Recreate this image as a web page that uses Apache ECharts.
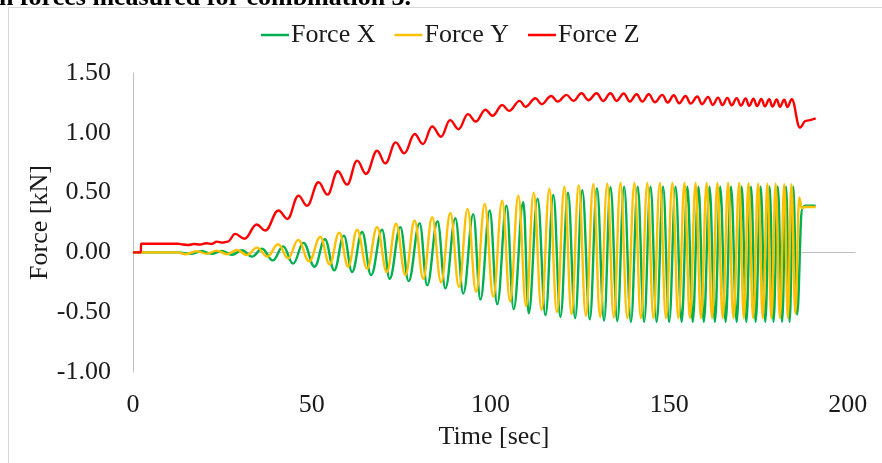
<!DOCTYPE html>
<html>
<head>
<meta charset="utf-8">
<script src="https://cdn.jsdelivr.net/npm/echarts@6/dist/echarts.min.js"></script>
<style>
html,body{margin:0;padding:0;background:#fff;}
#chart{width:882px;height:463px;}
</style>
</head>
<body>
<div id="chart"></div>
<script>
// Time [sec], Force [kN] pairs
var seriesNames = ['Force X', 'Force Y', 'Force Z'];
var xTickValues = [0, 50, 100, 150, 200];
var yTickValues = [-1.0, -0.5, 0.0, 0.5, 1.0, 1.5];

var forceX = [
  [0,0],[12.5,0],[16.4,-0.012],[19.2,0.01],[22,-0.012],[24.8,0.012],[27.7,-0.02],[30.5,0.018],
  [33.3,-0.035],[36.1,0.03],[39.1,-0.067],[42,0.05],[44.8,-0.094],[47.7,0.08],[50.8,-0.12],
  [53.7,0.11],[56.3,-0.15],[59,0.14],[61.3,-0.164],[64.1,0.17],[66.6,-0.19],[69.7,0.19],
  [71.8,-0.22],[74.8,0.21],[77.1,-0.24],[80.2,0.245],[82.3,-0.275],[85.2,0.26],[87.4,-0.3],
  [90.2,0.285],[92.4,-0.345],[95.2,0.32],[97.2,-0.394],[99.8,0.35],[101.9,-0.433],[104.5,0.39],
  [106.5,-0.475],[109.2,0.42],[110.7,-0.51],[113.2,0.45],[115.4,-0.525],[117.6,0.48],[119.6,-0.54],
  [121.7,0.5],[123.7,-0.55],[125.7,0.52],[127.8,-0.56],[129.8,0.535],[131.8,-0.57],[133.6,0.545],
  [135.5,-0.575],[137.4,0.55],[139.3,-0.58],[141.2,0.55],[143,-0.58],[144.8,0.55],[146.5,-0.58],
  [148.3,0.55],[150,-0.58],[151.8,0.55],[153.5,-0.58],[155.1,0.55],[156.6,-0.58],[158.2,0.55],
  [159.7,-0.58],[161.3,0.55],[162.8,-0.58],[164.3,0.55],[165.8,-0.58],[167.3,0.55],[168.9,-0.58],
  [170.3,0.55],[171.6,-0.58],[172.9,0.55],[174.2,-0.58],[175.6,0.55],[176.9,-0.58],[178.1,0.55],
  [179.2,-0.58],[180.4,0.55],[181.6,-0.58],[182.7,0.55],[183.7,-0.58],[184.7,0.55],[185.8,-0.52],
  [187.2,0.37],[188,0.39],[191,0.39]
];

var forceY = [
  [0,0],[12.5,0],[14.8,-0.015],[17.8,0.01],[20.6,-0.012],[23.4,0.015],[26.3,-0.015],[29.1,0.02],
  [31.9,-0.022],[34.7,0.04],[37.6,-0.035],[40.6,0.068],[43.4,-0.05],[46.2,0.105],[49.3,-0.075],
  [52.4,0.13],[55,-0.1],[57.7,0.165],[60.2,-0.12],[62.7,0.19],[65.5,-0.136],[68.3,0.21],
  [71,-0.164],[73.6,0.24],[76.2,-0.19],[78.8,0.267],[81.2,-0.22],[83.7,0.294],[86.2,-0.25],
  [88.8,0.33],[91.2,-0.29],[93.6,0.364],[96,-0.33],[98.4,0.406],[100.8,-0.37],[103.3,0.433],
  [105.5,-0.41],[107.8,0.475],[110,-0.45],[112.1,0.5],[114.3,-0.48],[116.5,0.53],[118.6,-0.5],
  [120.7,0.55],[122.7,-0.515],[124.7,0.56],[126.7,-0.53],[128.8,0.57],[130.7,-0.54],[132.7,0.575],
  [134.5,-0.545],[136.4,0.58],[138.3,-0.55],[140.3,0.58],[142.1,-0.55],[143.9,0.58],[145.6,-0.55],
  [147.4,0.58],[149.1,-0.55],[150.9,0.58],[152.6,-0.55],[154.3,0.58],[155.8,-0.55],[157.4,0.58],
  [158.9,-0.55],[160.5,0.58],[162,-0.55],[163.5,0.58],[165,-0.55],[166.5,0.58],[168,-0.55],
  [169.6,0.58],[170.9,-0.55],[172.2,0.578],[173.5,-0.55],[174.9,0.575],[176.2,-0.55],[177.5,0.575],
  [178.6,-0.55],[179.8,0.575],[181,-0.55],[182.2,0.57],[183.2,-0.55],[184.2,0.57],[185.3,-0.51],
  [186.4,0.46],[187.1,0.37],[188,0.38],[191,0.38]
];

var forceZ = [
  [0,0],[2.2,0],[2.25,0.072],[12.5,0.072],[14,0.066],[15.5,0.062],[17,0.07],[18.8,0.066],
  [20.5,0.076],[22,0.07],[23.5,0.09],[25,0.082],[26.5,0.09],[28.6,0.155],[31.2,0.114],
  [34.6,0.233],[37,0.183],[40.7,0.35],[43.2,0.28],[46.3,0.475],[48.7,0.39],[51.9,0.586],
  [54.4,0.483],[57.3,0.678],[59.9,0.567],[62.7,0.767],[65.2,0.656],[68.3,0.85],[70.6,0.744],
  [73.5,0.92],[75.9,0.828],[78.8,0.99],[81.1,0.906],[83.7,1.053],[86.2,0.967],[88.7,1.106],
  [91.1,1.03],[93.7,1.156],[95.9,1.094],[98.6,1.193],[100.6,1.142],[103.3,1.233],[105.2,1.183],
  [108.2,1.267],[109.8,1.217],[112.6,1.289],[114.3,1.239],[117,1.308],[118.8,1.261],[121.3,1.317],
  [123.2,1.267],[125.5,1.331],[127.4,1.272],[129.7,1.331],[131.5,1.267],[133.6,1.331],[135.3,1.267],
  [137.3,1.328],[139,1.261],[140.9,1.322],[142.5,1.261],[144.3,1.322],[146,1.256],[148.1,1.317],
  [149.6,1.253],[151.3,1.314],[152.8,1.247],[154.6,1.308],[156,1.244],[157.9,1.303],[159.2,1.239],
  [160.9,1.3],[162.2,1.233],[163.7,1.294],[164.9,1.232],[166.3,1.292],[167.5,1.23],[168.9,1.29],
  [170.1,1.228],[171.4,1.288],[172.4,1.226],[173.6,1.285],[174.6,1.224],[175.8,1.283],[176.8,1.222],
  [178,1.28],[178.9,1.22],[180.1,1.278],[181,1.218],[182.2,1.276],[183.1,1.216],[184.3,1.28],
  [186.6,1.044],[188.2,1.1],[191,1.12]
];

var FONT = "'Liberation Serif', 'Times New Roman', serif";
var TXT = '#1a1a1a';
var FS = 26;

var chart = echarts.init(document.getElementById('chart'), null, {renderer: 'canvas'});

function lineSeries(name, data, color) {
  return {
    name: name, type: 'line', data: data, xAxisIndex: 0, yAxisIndex: 0,
    showSymbol: false, symbol: 'none', smooth: 0.4, smoothMonotone: 'x',
    lineStyle: {color: color, width: 2.4}, itemStyle: {color: color},
    z: 3
  };
}

chart.setOption({
  animation: false,
  backgroundColor: '#fff',
  textStyle: {fontFamily: FONT},
  graphic: [
    {type: 'rect', silent: true, z: -1,
     shape: {x: 8.5, y: 7.5, width: 900, height: 500},
     style: {fill: 'none', stroke: '#d9d9d9', lineWidth: 1}},
    {type: 'text', silent: true, x: -1, y: -2, z: 10,
     style: {text: 'n forces measured for combination 3.', font: 'bold 26px ' + FONT,
             fill: '#000', verticalAlign: 'middle', align: 'left'}}
  ],
  legend: {
    data: seriesNames,
    top: 17, left: 256,
    icon: 'rect',
    itemWidth: 28, itemHeight: 2.5, itemGap: 19,
    textStyle: {fontFamily: FONT, fontSize: FS, color: TXT, padding: [0, 0, 0, -3]}
  },
  grid: {left: 133, right: 27, top: 73, bottom: 91, containLabel: false},
  xAxis: [
    {type: 'value', min: 0, max: 202, interval: 50, position: 'bottom',
     name: 'Time [sec]', nameLocation: 'middle', nameGap: 52,
     nameTextStyle: {fontFamily: FONT, fontSize: FS, color: TXT},
     axisLine: {show: false, onZero: false}, axisTick: {show: false}, splitLine: {show: false},
     axisLabel: {fontFamily: FONT, fontSize: FS, color: TXT, margin: 20, showMaxLabel: false,
       formatter: function (v) { return xTickValues.indexOf(v) >= 0 ? String(v) : ''; }}},
    {type: 'value', min: 0, max: 202, position: 'bottom',
     axisLine: {show: true, onZero: true, lineStyle: {color: '#bfbfbf', width: 1}},
     axisTick: {show: false}, axisLabel: {show: false}, splitLine: {show: false}}
  ],
  yAxis: {
    type: 'value', min: yTickValues[0], max: yTickValues[yTickValues.length - 1], interval: 0.5,
    name: 'Force [kN]', nameLocation: 'middle', nameGap: 80, nameRotate: 90,
    nameMoveOverlap: false,
    nameTextStyle: {fontFamily: FONT, fontSize: FS, color: TXT},
    axisLine: {show: true, onZero: false, lineStyle: {color: '#bfbfbf', width: 1}},
    axisTick: {show: false}, splitLine: {show: false},
    axisLabel: {fontFamily: FONT, fontSize: FS, color: TXT, margin: 22,
      formatter: function (v) { return v.toFixed(2); }}
  },
  series: [
    lineSeries(seriesNames[0], forceX, '#00B050'),
    lineSeries(seriesNames[1], forceY, '#FFC000'),
    lineSeries(seriesNames[2], forceZ, '#FF0000')
  ]
});
</script>
</body>
</html>
